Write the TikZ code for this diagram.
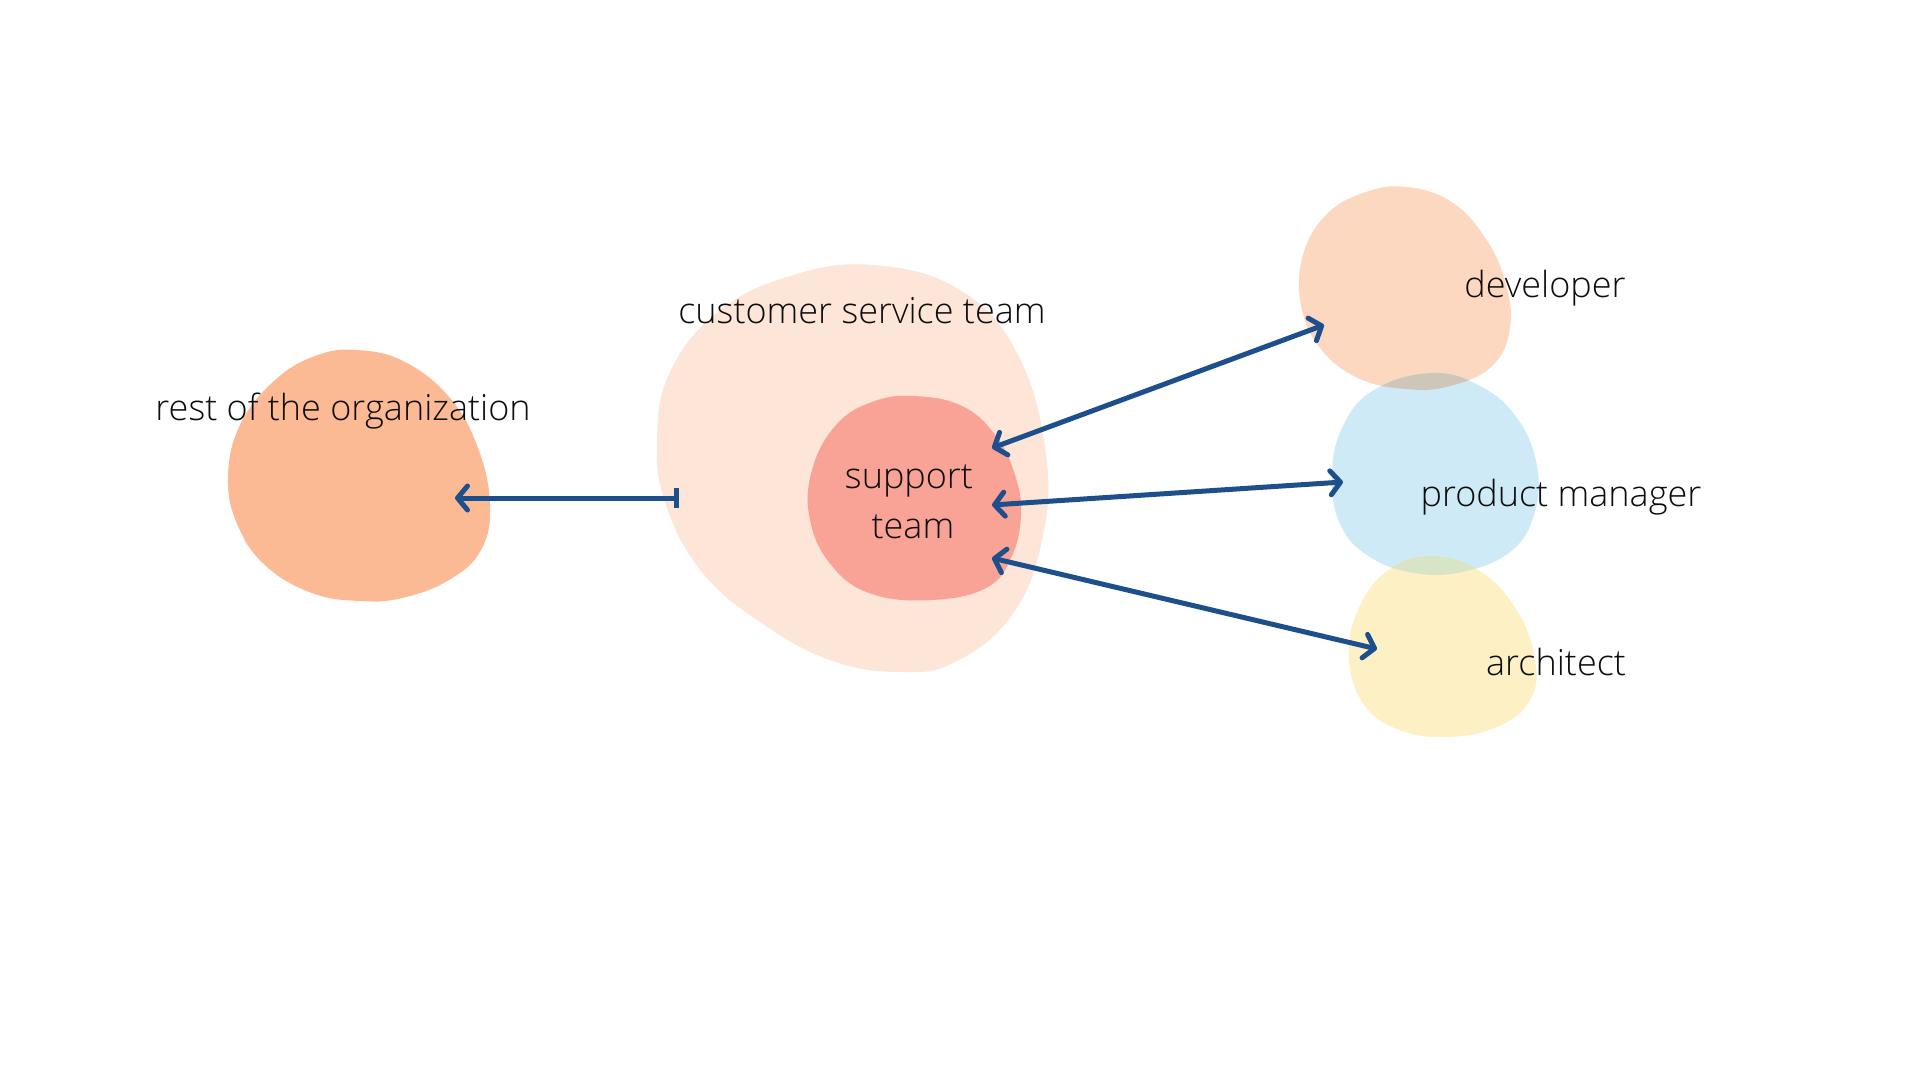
\documentclass[tikz,border=0pt]{standalone}
\usepackage{fontspec}
\IfFontExistsTF{Open Sans Light}{\setmainfont{Open Sans Light}}{\setmainfont{Open Sans}}
\usetikzlibrary{arrows.meta}
\definecolor{orgc}{HTML}{FBBA93}
\definecolor{cstc}{HTML}{FDE5D8}
\definecolor{supc}{HTML}{F9A296}
\definecolor{devc}{HTML}{FCD8C0}
\definecolor{pmc}{HTML}{CDEAF6}
\definecolor{arcc}{HTML}{FCF0C4}
\definecolor{ovdp}{HTML}{CDC6B9}
\definecolor{ovpa}{HTML}{D9E4C6}
\definecolor{arrowc}{HTML}{1E4F8D}
\definecolor{txtc}{HTML}{0D0D0D}
\tikzset{
  lbl/.style={font=\fontsize{36}{50}\selectfont, text=txtc, inner sep=0pt, anchor=base},
  link/.style={draw=arrowc, line width=5pt, line cap=round,
    {Straight Barb[length=10pt,width=24pt,round]}-{Straight Barb[length=10pt,width=24pt,round]}},
  halflink/.style={draw=arrowc, line width=5pt,
    {Straight Barb[length=10pt,width=24pt,round]}-{Bar[width=20pt]}}
}
\begin{document}
\begin{tikzpicture}[x=1pt,y=-1pt]
\useasboundingbox (0,0) rectangle (1920,1080);
\fill[white] (0,0) rectangle (1920,1080);

% rest of the organization blob
\fill[orgc] plot[smooth cycle, tension=0.7] coordinates {
 (357,350) (405,362) (450,398) (478,448) (490,505) (481,550) (449,580)
 (402,598) (360,601) (312,593) (266,566) (238,526) (228,478) (240,425)
 (274,381) (315,356)};

% customer service team blob
\fill[cstc] plot[smooth cycle, tension=0.7] coordinates {
 (873,265) (960,290) (1018,355) (1046,455) (1042,540) (1012,615)
 (955,662) (900,672) (830,660) (760,622) (702,572) (666,505) (657,440)
 (670,372) (718,312) (790,276)};

% support team blob
\fill[supc] plot[smooth cycle, tension=0.7] coordinates {
 (913,396) (962,406) (996,436) (1015,475) (1021,515) (1011,558)
 (986,588) (932,600) (872,594) (832,566) (810,520) (812,470)
 (836,425) (872,402)};

% developer blob
\fill[devc] plot[smooth cycle, tension=0.7] coordinates {
 (1406,187) (1450,201) (1484,236) (1505,281) (1510,328) (1492,366)
 (1450,386) (1406,389) (1358,378) (1320,348) (1301,305) (1303,255)
 (1327,214) (1366,192)};

% product manager blob
\fill[pmc] plot[smooth cycle, tension=0.7] coordinates {
 (1432,373) (1480,386) (1517,418) (1537,466) (1534,515) (1510,552)
 (1462,572) (1414,573) (1370,557) (1341,526) (1332,478) (1342,428)
 (1374,390)};

% architect blob
\fill[arcc] plot[smooth cycle, tension=0.7] coordinates {
 (1430,556) (1478,570) (1516,609) (1535,660) (1530,700) (1497,727)
 (1445,737) (1397,729) (1363,703) (1349,658) (1358,610) (1387,571)};

% overlap developer / product manager
\begin{scope}
\clip plot[smooth cycle, tension=0.7] coordinates {
 (1406,187) (1450,201) (1484,236) (1505,281) (1510,328) (1492,366)
 (1450,386) (1406,389) (1358,378) (1320,348) (1301,305) (1303,255)
 (1327,214) (1366,192)};
\fill[ovdp] plot[smooth cycle, tension=0.7] coordinates {
 (1432,373) (1480,386) (1517,418) (1537,466) (1534,515) (1510,552)
 (1462,572) (1414,573) (1370,557) (1341,526) (1332,478) (1342,428)
 (1374,390)};
\end{scope}

% overlap product manager / architect
\begin{scope}
\clip plot[smooth cycle, tension=0.7] coordinates {
 (1432,373) (1480,386) (1517,418) (1537,466) (1534,515) (1510,552)
 (1462,572) (1414,573) (1370,557) (1341,526) (1332,478) (1342,428)
 (1374,390)};
\fill[ovpa] plot[smooth cycle, tension=0.7] coordinates {
 (1430,556) (1478,570) (1516,609) (1535,660) (1530,700) (1497,727)
 (1445,737) (1397,729) (1363,703) (1349,658) (1358,610) (1387,571)};
\end{scope}

% labels
\node[lbl] (org) at (343,420) {rest of the organization};
\node[lbl] (cst) at (862,323) {customer service team};
\node[lbl] (sup1) at (909,488) {support};
\node[lbl] (sup2) at (913,538) {team};
\node[lbl] (dev) at (1545,297) {developer};
\node[lbl] (pm) at (1561,506) {product manager};
\node[lbl] (arc) at (1556,675) {architect};

% connector end points
\coordinate (orgIn) at (455,498);
\coordinate (cstOut) at (679,498);
\coordinate (supD) at (992,448);
\coordinate (supP) at (992,505);
\coordinate (supA) at (992,558);
\coordinate (devIn) at (1324,325);
\coordinate (pmIn) at (1343,482);
\coordinate (arcIn) at (1377,649);

% connectors
\draw[halflink] (orgIn) -- (cstOut);
\draw[link] (supD) -- (devIn);
\draw[link] (supP) -- (pmIn);
\draw[link] (supA) -- (arcIn);
\end{tikzpicture}
\end{document}
